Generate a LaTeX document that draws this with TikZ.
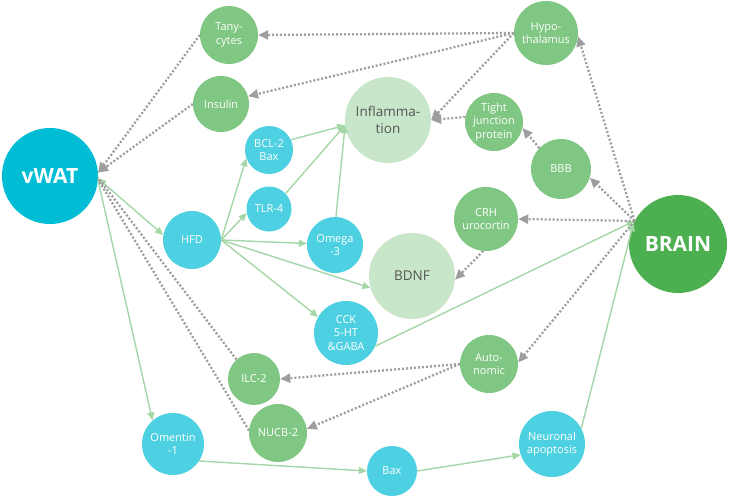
\documentclass[tikz,border=0pt]{standalone}
\usepackage{fontspec}
\setmainfont{Open Sans}
\usetikzlibrary{arrows.meta}

\definecolor{watcyan}{HTML}{00BCD4}
\definecolor{nodecyan}{HTML}{4DD0E1}
\definecolor{leaf}{HTML}{81C784}
\definecolor{braingreen}{HTML}{4CAF50}
\definecolor{pale}{HTML}{C8E6C9}
\definecolor{palelink}{HTML}{A5D6A7}
\definecolor{dotgray}{HTML}{9E9E9E}
\definecolor{txtgray}{HTML}{555555}

\begin{document}
\begin{tikzpicture}[x=1pt, y=-1pt,
    bubble/.style={circle, inner sep=0pt, align=center, text=white, font=\fontsize{11}{13.3}\selectfont},
    hub/.style={bubble, font=\bfseries\fontsize{21}{24}\selectfont},
    cnode/.style={bubble, fill=nodecyan},
    gnode/.style={bubble, fill=leaf},
    pnode/.style={bubble, fill=pale, text=txtgray, font=\fontsize{13.5}{16.5}\selectfont},
    link/.style={palelink, line width=1.4pt, -{Triangle[length=8pt,width=7pt]}},
    dotlink/.style={dotgray, line width=2.3pt, dash pattern=on 2pt off 2pt, -{Triangle[length=10pt,width=9pt]}}]
    \useasboundingbox (0,0) rectangle (729,498);

    % Noeuds
    \node[hub, fill=watcyan, minimum size=96] (vwat) at (50,176) {vWAT};
    \node[hub, fill=braingreen, minimum size=98] (brain) at (678,244) {BRAIN};

    \node[gnode, minimum size=58] (tany) at (229,35) {Tany-\\cytes};
    \node[gnode, minimum size=56] (insulin) at (221,104) {Insulin};
    \node[gnode, minimum size=64] (hypo) at (546,33) {Hypo-\\thalamus};
    \node[gnode, minimum size=58] (tight) at (494,122) {Tight\\junction\\protein};
    \node[gnode, minimum size=60] (bbb) at (561,169) {BBB};
    \node[gnode, minimum size=64] (crh) at (486,219) {CRH\\urocortin};
    \node[gnode, minimum size=58] (auto) at (489,364) {Auto-\\nomic};
    \node[gnode, minimum size=52] (ilc) at (254,379) {ILC-2};
    \node[gnode, minimum size=58] (nucb) at (278,433) {NUCB-2};

    \node[cnode, minimum size=48] (bcl) at (269,150) {BCL-2\\Bax};
    \node[cnode, minimum size=45] (tlr) at (269,209) {TLR-4};
    \node[cnode, minimum size=58] (hfd) at (192,240) {HFD};
    \node[cnode, minimum size=56] (omega) at (335,245) {Omega\\-3};
    \node[cnode, minimum size=64] (cck) at (346,333) {CCK\\5-HT\\\&GABA};
    \node[cnode, minimum size=62] (omentin) at (173,444) {Omentin\\-1};
    \node[cnode, minimum size=50] (bax) at (392,471) {Bax};
    \node[cnode, minimum size=66] (neuro) at (552,444) {Neuronal\\apoptosis};

    \node[pnode, minimum size=86] (inflam) at (388,120) {Inflamma-\\tion};
    \node[pnode, minimum size=86] (bdnf) at (412,276) {BDNF};

    % Liens pleins
    \draw[link, {Triangle[length=8pt,width=7pt]}-{Triangle[length=8pt,width=7pt]}] (vwat.-3) -- (hfd.170);
    \draw[link] (vwat.-5) -- (omentin.131);
    \foreach \t/\a in {bcl/200, tlr/190, omega/177, bdnf/196, cck/150} {
        \draw[link] (hfd.east) -- (\t.\a);
    }
    \draw[link] (bcl.25) -- (inflam.187);
    \draw[link] (tlr.43) -- (inflam.187);
    \draw[link] (omega.88) -- (inflam.187);
    \draw[link] (cck.-24) -- (brain.152);
    \draw[link] (omentin.-33) -- (bax.west);
    \draw[link] (bax.east) -- (neuro.199);
    \draw[link] (neuro.28) -- (brain.155);

    % Liens pointilles
    \draw[dotlink] (hypo.west) -- (tany.east);
    \draw[dotlink] (hypo.west) -- (insulin.16);
    \draw[dotlink] (hypo.west) -- (inflam.east);
    \draw[dotlink] (tight.170) -- (inflam.east);
    \draw[dotlink] (tany.west) -- (vwat.4);
    \draw[dotlink] (insulin.west) -- (vwat.4);
    \draw[dotlink] (brain.152) -- (hypo.-6);
    \draw[dotlink] (brain.152) -- (bbb.-17);
    \draw[dotlink] (bbb.136) -- (tight.-12);
    \draw[dotlink] (brain.152) -- (crh.east);
    \draw[dotlink] (crh.-95) -- (bdnf.-5);
    \draw[dotlink] (brain.152) -- (auto.3);
    \draw[dotlink] (auto.west) -- (ilc.east);
    \draw[dotlink] (auto.west) -- (nucb.8);
    \draw[dotlink, -] (ilc.132) -- (vwat.-2);
    \draw[dotlink, -] (nucb.175) -- (vwat.-4);
\end{tikzpicture}
\end{document}
